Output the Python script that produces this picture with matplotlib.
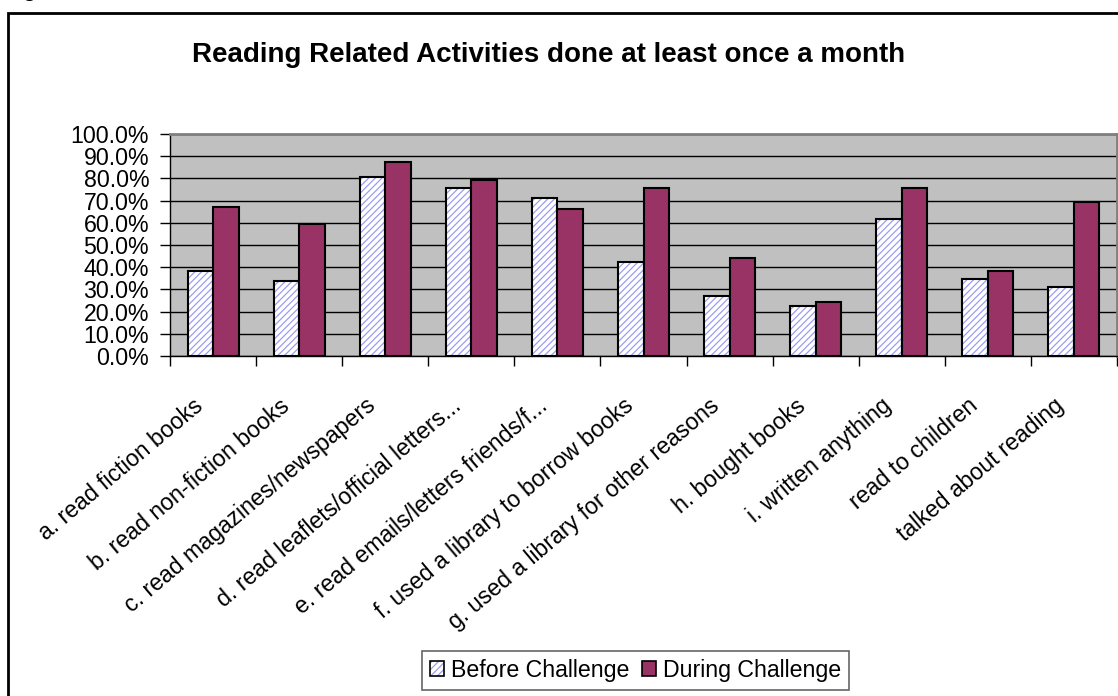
import numpy as np
import matplotlib
matplotlib.use("Agg")
import matplotlib.pyplot as plt
from matplotlib.patches import Patch, Rectangle
from matplotlib.transforms import ScaledTranslation

plt.rcParams['font.family'] = ['Liberation Sans', 'DejaVu Sans']
plt.rcParams['hatch.color'] = '#9c9cf4'
plt.rcParams['hatch.linewidth'] = 0.9

activities = [
    "a. read fiction books",
    "b. read non-fiction books",
    "c. read magazines/newspapers",
    "d. read leaflets/official letters...",
    "e. read emails/letters friends/f...",
    "f. used a library to borrow books",
    "g. used a library for other reasons",
    "h. bought books",
    "i. written anything",
    "read to children",
    "talked about reading",
]
before = [38.1, 33.9, 80.6, 75.5, 71.2, 42.3, 27.0, 22.7, 61.9, 34.5, 31.2]
during = [67.0, 59.5, 87.5, 79.1, 66.3, 75.5, 44.0, 24.5, 75.5, 38.1, 69.4]
y_ticks = np.arange(0, 101, 10)

FS = 16.7
W, H = 1118, 696
fig = plt.figure(figsize=(W / 100, H / 100), dpi=100)
ax = fig.add_axes([170 / W, 1 - 356 / H, (1117 - 170) / W, (356 - 134) / H])
ax.set_facecolor('#c0c0c0')

x = np.arange(len(activities))
bw = 0.296

# hatched fill first, then the black outline on top
ax.bar(x - bw / 2, before, bw, color='white', hatch='/////', zorder=2)
ax.bar(x - bw / 2, before, bw, fill=False, edgecolor='black', lw=1.5, zorder=3)
ax.bar(x + bw / 2, during, bw, color='#993366', edgecolor='black', lw=1.5, zorder=3)

ax.set_xlim(-0.5, len(activities) - 0.5)
ax.set_ylim(0, 100)
ax.set_yticks(y_ticks)
ax.set_yticklabels([f"{v:.1f}%" for v in y_ticks], fontsize=FS)
ax.yaxis.grid(True, color='black', lw=1)
ax.set_axisbelow(True)
ax.tick_params(axis='y', direction='out', length=7, width=1, pad=8)

ax.set_xticks(np.arange(len(activities) + 1) - 0.5)
ax.set_xticklabels([])
ax.tick_params(axis='x', direction='out', length=7, width=1)

for s in ['left', 'bottom']:
    ax.spines[s].set_color('black')
    ax.spines[s].set_linewidth(1)
for s in ['top', 'right']:
    ax.spines[s].set_color('#808080')
    ax.spines[s].set_linewidth(2)

# slanted category names, right end just left of each group
off = ScaledTranslation(-13 / 100, -47 / 100, fig.dpi_scale_trans)
for i, lab in enumerate(activities):
    ax.text(i, 0, lab, transform=ax.get_xaxis_transform() + off,
            rotation=40, rotation_mode='anchor', ha='right', va='center',
            fontsize=FS)

fig.text(192 / W, 1 - 55 / H, "Reading Related Activities done at least once a month",
         ha='left', va='center', fontsize=20, fontweight='bold')

# chart border and stray caption descender
fig.add_artist(Rectangle((8 / W, -0.1), 2, 1 - 13 / H + 0.1, transform=fig.transFigure,
                         fill=False, edgecolor='black', lw=2))
fig.text(22 / W, 1 + 4 / H, "g", ha='left', va='baseline', fontsize=16, fontweight='bold')

h_before = (Patch(facecolor='white', hatch='/////'),
            Patch(fill=False, edgecolor='black', lw=1.2))
h_during = Patch(facecolor='#993366', edgecolor='black', lw=1.2)
leg = fig.legend([h_before, h_during], ["Before Challenge", "During Challenge"],
                 loc='center left', bbox_to_anchor=(422 / W, 1 - 670.5 / H), ncol=2,
                 fontsize=FS, frameon=True, fancybox=False, handlelength=0.6,
                 handleheight=0.6, handletextpad=0.3, columnspacing=0.56,
                 borderpad=0.35, borderaxespad=0)
leg.get_frame().set_edgecolor('#404040')
leg.get_frame().set_linewidth(1.2)

fig.savefig("out.png", dpi=100)
